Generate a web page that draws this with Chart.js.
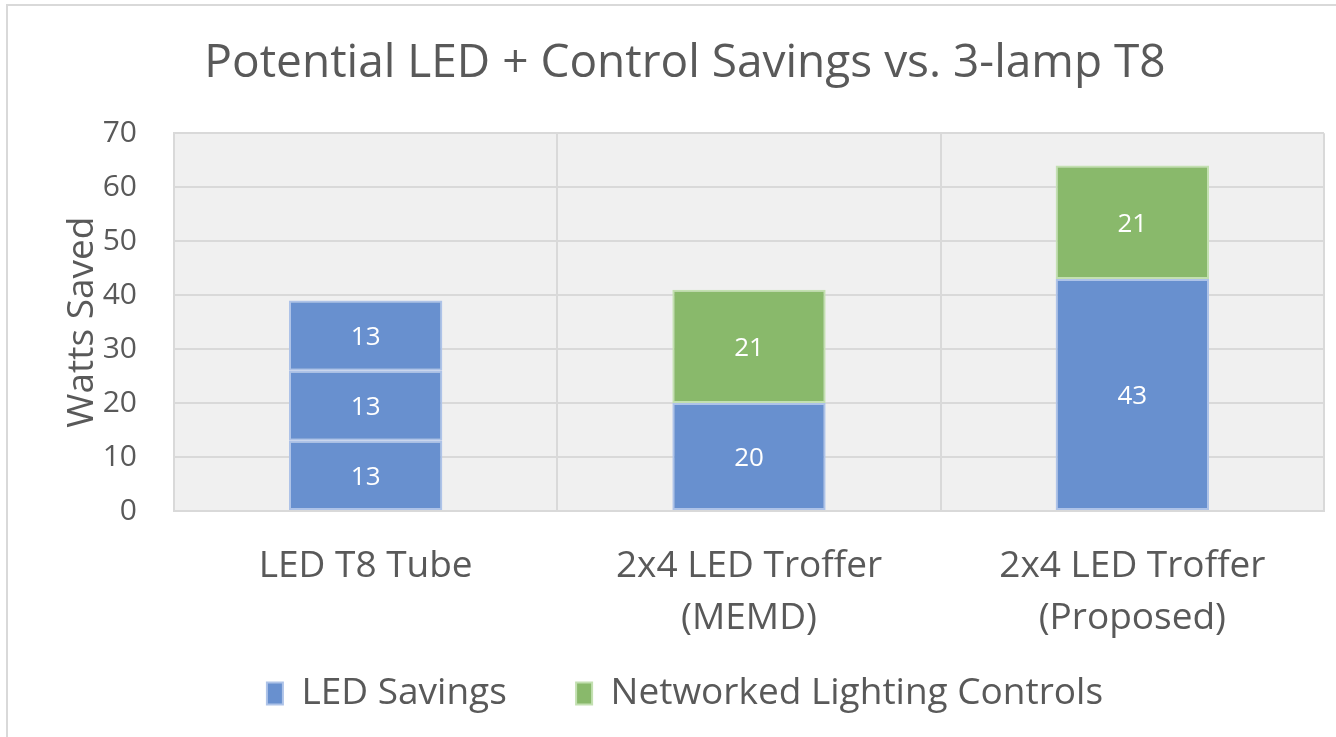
<!DOCTYPE html>
<html>
<head>
<meta charset="utf-8">
<script src="https://cdn.jsdelivr.net/npm/chart.js@4"></script>
<style>
  html, body { margin: 0; padding: 0; background: #fff; }
  #wrap { position: relative; width: 1336px; height: 737px; }
</style>
</head>
<body>
<div id="wrap"><canvas id="chart" width="1336" height="737"></canvas></div>
<script>
// data
const categories = [['LED T8 Tube'], ['2x4 LED Troffer', '(MEMD)'], ['2x4 LED Troffer', '(Proposed)']];
const ledSavings = [13, 20, 43];
const ledSavingsTube2 = [13, null, null];
const ledSavingsTube3 = [13, null, null];
const networkedControls = [null, 21, 21];
const yTicks = [0, 10, 20, 30, 40, 50, 60, 70];

const blue = '#6890cf', blueEdge = '#aec3e8';
const green = '#89b96b', greenEdge = '#c3e0b1';
const textGrey = '#595959';
const fontFam = '"Open Sans", sans-serif';

// grey plot area + outer frame
const backdrop = {
    id: 'backdrop',
    beforeDraw(chart) {
        const { ctx, chartArea: a } = chart;
        ctx.save();
        ctx.strokeStyle = '#d9d9d9';
        ctx.lineWidth = 2;
        ctx.strokeRect(7, 5, 1340, 740);
        ctx.fillStyle = '#f0f0f0';
        ctx.fillRect(a.left, a.top, a.right - a.left, a.bottom - a.top);
        ctx.restore();
    }
};

// white numbers in the middle of each segment
const segLabels = {
    id: 'segLabels',
    afterDatasetsDraw(chart) {
        const { ctx } = chart;
        ctx.save();
        ctx.fillStyle = '#ffffff';
        ctx.font = '26px ' + fontFam;
        ctx.textAlign = 'center';
        ctx.textBaseline = 'middle';
        chart.data.datasets.forEach((ds, i) => {
            chart.getDatasetMeta(i).data.forEach((bar, j) => {
                const v = ds.data[j];
                if (v == null) return;
                ctx.fillText(String(v), bar.x, (bar.y + bar.base) / 2 + 2);
            });
        });
        ctx.restore();
    }
};

const seg = (label, data, fill, edge) => ({
    label, data,
    backgroundColor: fill,
    borderColor: edge,
    borderWidth: 2,
    borderSkipped: false,
    barPercentage: 0.4,
    categoryPercentage: 1
});

new Chart(document.getElementById('chart'), {
    type: 'bar',
    data: {
        labels: categories,
        datasets: [
            seg('LED Savings', ledSavings, blue, blueEdge),
            seg('LED Savings', ledSavingsTube2, blue, blueEdge),
            seg('LED Savings', ledSavingsTube3, blue, blueEdge),
            seg('Networked Lighting Controls', networkedControls, green, greenEdge)
        ]
    },
    options: {
        responsive: false,
        animation: false,
        layout: { padding: { left: 46, right: 12, top: 0, bottom: 15 } },
        plugins: {
            title: {
                display: true,
                text: 'Potential LED + Control Savings vs. 3-lamp T8',
                color: textGrey,
                font: { family: fontFam, size: 46, weight: 'normal' },
                padding: { top: 36, bottom: 42 }
            },
            legend: {
                position: 'bottom',
                labels: {
                    // the tube's extra blue segments share one legend entry
                    generateLabels: (chart) => {
                        const items = Chart.defaults.plugins.legend.labels.generateLabels(chart)
                            .filter(it => it.datasetIndex === 0 || it.datasetIndex === 3);
                        items[0].text += '       ';
                        return items;
                    },
                    color: textGrey,
                    font: { family: fontFam, size: 37 },
                    boxWidth: 16,
                    boxHeight: 22,
                    padding: 2
                }
            },
            tooltip: { enabled: false }
        },
        scales: {
            x: {
                stacked: true,
                grid: { color: '#d9d9d9', lineWidth: 2, drawTicks: false },
                border: { color: '#d9d9d9', width: 2 },
                ticks: {
                    color: textGrey,
                    font: { family: fontFam, size: 37, lineHeight: 1.405 },
                    padding: 29,
                    maxRotation: 0
                }
            },
            y: {
                stacked: true,
                min: 0,
                max: 70,
                afterBuildTicks: (axis) => { axis.ticks = yTicks.map(v => ({ value: v })); },
                afterFit: (axis) => { axis.width = 128; },
                grid: { color: '#d9d9d9', lineWidth: 2, drawTicks: false },
                border: { color: '#d9d9d9', width: 2 },
                ticks: {
                    color: textGrey,
                    font: { family: fontFam, size: 30 },
                    padding: 37
                },
                title: {
                    display: true,
                    text: 'Watts Saved',
                    color: textGrey,
                    font: { family: fontFam, size: 37 },
                    padding: { top: 14, bottom: 0 }
                }
            }
        }
    },
    plugins: [backdrop, segLabels]
});
</script>
</body>
</html>
